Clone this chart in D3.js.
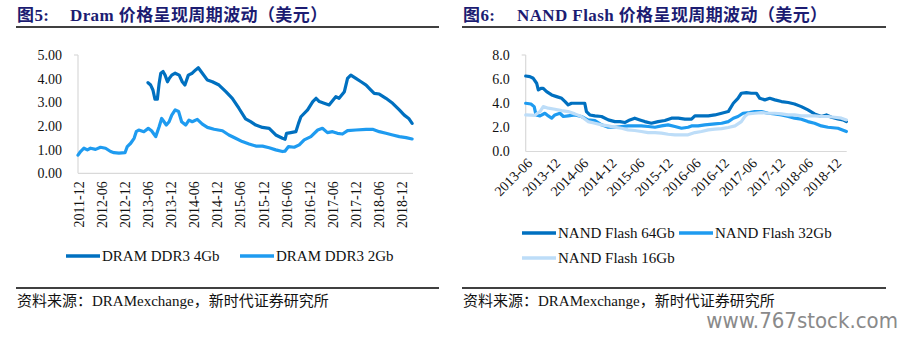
<!DOCTYPE html>
<html>
<head>
<meta charset="utf-8">
<style>
    body {
        margin: 0;
        background: #fff;
    }
    svg {
        display: block;
        font-family: "Liberation Serif", "Noto Sans CJK SC", serif;
    }
    .title {
        font-size: 17px;
        font-weight: bold;
        fill: #1c1c72;
        letter-spacing: 0.4px;
    }
    .tick-label {
        font-size: 14px;
        fill: #111;
    }
    .legend-label {
        font-size: 15px;
        fill: #111;
    }
    .source {
        font-size: 15px;
        fill: #111;
    }
    .rule {
        stroke: #000;
        stroke-width: 1.3;
    }
    .axis-line {
        stroke: #d9d9d9;
        stroke-width: 1.2;
        fill: none;
    }
    .series {
        fill: none;
        stroke-width: 3.2;
        stroke-linejoin: round;
        stroke-linecap: round;
    }
</style>
</head>
<body>
<script src="https://d3js.org/d3.v7.min.js"></script>
<script>

    // DRAM contract prices (USD)
    var ddr3_4gb = [
        ["2013-06-07", 3.83], ["2013-06-28", 3.73], ["2013-07-16", 3.52], ["2013-08-01", 3.13],
        ["2013-08-20", 3.13], ["2013-09-03", 3.80], ["2013-09-16", 4.23], ["2013-10-04", 4.30],
        ["2013-10-20", 4.15], ["2013-11-08", 3.87], ["2013-11-21", 4.00], ["2013-12-12", 4.15],
        ["2014-01-08", 4.23], ["2014-02-09", 4.15], ["2014-03-05", 3.87], ["2014-03-26", 3.73],
        ["2014-04-22", 4.15], ["2014-05-23", 4.23], ["2014-06-19", 4.37], ["2014-07-10", 4.46],
        ["2014-08-11", 4.23], ["2014-09-20", 3.94], ["2014-10-29", 3.87], ["2014-12-21", 3.73],
        ["2015-02-13", 3.45], ["2015-04-05", 3.17], ["2015-05-27", 2.75], ["2015-07-19", 2.30],
        ["2015-08-28", 2.18], ["2015-10-08", 2.04], ["2015-11-30", 1.94], ["2016-01-22", 1.90],
        ["2016-03-14", 1.62], ["2016-05-06", 1.48], ["2016-05-27", 1.44], ["2016-06-07", 1.69],
        ["2016-07-11", 1.72], ["2016-08-20", 1.76], ["2016-09-10", 2.11], ["2016-09-29", 2.39],
        ["2016-11-21", 2.68], ["2017-01-01", 3.03], ["2017-01-27", 3.17], ["2017-02-22", 3.03],
        ["2017-04-01", 2.96], ["2017-05-10", 2.89], ["2017-07-02", 3.24], ["2017-07-28", 3.17],
        ["2017-09-08", 3.45], ["2017-10-03", 4.01], ["2017-10-29", 4.15], ["2017-12-08", 4.01],
        ["2018-01-18", 3.87], ["2018-02-27", 3.73], ["2018-04-06", 3.52], ["2018-05-02", 3.38],
        ["2018-06-11", 3.35], ["2018-08-03", 3.17], ["2018-09-25", 2.96], ["2018-11-17", 2.68],
        ["2018-12-26", 2.46], ["2019-01-30", 2.32], ["2019-02-26", 2.11]
    ];

    var ddr3_2gb = [
        ["2011-12-01", 0.77], ["2011-12-21", 0.92], ["2012-01-17", 1.06], ["2012-02-13", 0.99],
        ["2012-03-09", 1.06], ["2012-04-18", 1.01], ["2012-05-27", 1.10], ["2012-07-06", 1.06],
        ["2012-08-15", 0.92], ["2012-09-11", 0.87], ["2012-10-20", 0.85], ["2012-12-07", 0.87],
        ["2012-12-25", 1.13], ["2013-01-21", 1.27], ["2013-02-17", 1.48], ["2013-03-06", 1.76],
        ["2013-03-26", 1.83], ["2013-05-05", 1.76], ["2013-06-09", 1.90], ["2013-07-05", 1.80],
        ["2013-08-07", 1.55], ["2013-09-03", 1.97], ["2013-09-23", 2.32], ["2013-10-12", 2.18],
        ["2013-10-30", 2.04], ["2013-11-21", 2.18], ["2013-12-12", 2.46], ["2014-01-08", 2.68],
        ["2014-02-04", 2.61], ["2014-02-28", 2.18], ["2014-04-01", 2.04], ["2014-04-27", 2.25],
        ["2014-05-23", 2.18], ["2014-07-02", 2.28], ["2014-08-11", 2.08], ["2014-09-20", 1.94],
        ["2014-11-12", 1.86], ["2015-01-17", 1.80], ["2015-03-09", 1.62], ["2015-05-01", 1.48],
        ["2015-06-23", 1.34], ["2015-08-16", 1.24], ["2015-10-08", 1.15], ["2015-11-30", 1.15],
        ["2016-01-22", 1.08], ["2016-03-14", 0.99], ["2016-05-06", 0.92], ["2016-05-27", 0.94],
        ["2016-06-23", 1.13], ["2016-08-07", 1.10], ["2016-09-16", 1.20], ["2016-10-25", 1.41],
        ["2016-12-17", 1.55], ["2017-02-09", 1.83], ["2017-03-18", 1.90], ["2017-04-27", 1.72],
        ["2017-06-06", 1.76], ["2017-07-15", 1.69], ["2017-08-24", 1.66], ["2017-10-03", 1.80],
        ["2017-12-08", 1.83], ["2018-02-27", 1.86], ["2018-04-19", 1.86], ["2018-06-11", 1.76],
        ["2018-08-03", 1.69], ["2018-09-25", 1.62], ["2018-11-17", 1.55], ["2019-01-09", 1.51],
        ["2019-02-26", 1.45]
    ];

    // NAND Flash contract prices (USD)
    var nand_64gb = [
        ["2013-06-01", 6.26], ["2013-06-28", 6.21], ["2013-07-20", 6.07], ["2013-08-11", 5.66],
        ["2013-08-22", 5.10], ["2013-09-08", 5.24], ["2013-09-23", 5.24], ["2013-10-15", 4.97],
        ["2013-11-17", 4.69], ["2013-12-19", 4.55], ["2014-01-21", 4.41], ["2014-02-12", 4.14],
        ["2014-03-04", 3.86], ["2014-03-26", 4.00], ["2014-05-08", 4.00], ["2014-06-20", 4.00],
        ["2014-07-01", 3.31], ["2014-07-23", 3.03], ["2014-08-25", 2.95], ["2014-10-07", 2.90],
        ["2014-11-20", 2.62], ["2015-01-02", 2.48], ["2015-02-04", 2.48], ["2015-03-07", 2.40],
        ["2015-04-09", 2.62], ["2015-05-11", 2.76], ["2015-06-13", 2.62], ["2015-07-15", 2.48],
        ["2015-08-27", 2.34], ["2015-10-10", 2.48], ["2015-11-23", 2.57], ["2016-01-05", 2.76],
        ["2016-02-18", 2.76], ["2016-04-01", 2.68], ["2016-05-14", 2.68], ["2016-06-05", 2.95],
        ["2016-07-18", 2.95], ["2016-08-31", 2.95], ["2016-10-13", 3.03], ["2016-11-26", 3.17],
        ["2017-01-08", 3.31], ["2017-02-10", 4.00], ["2017-03-12", 4.41], ["2017-04-03", 4.83],
        ["2017-05-06", 4.88], ["2017-06-07", 4.83], ["2017-07-10", 4.83], ["2017-08-01", 4.41],
        ["2017-09-03", 4.28], ["2017-10-05", 4.41], ["2017-11-07", 4.28], ["2017-12-20", 4.14],
        ["2018-02-02", 4.06], ["2018-03-15", 3.94], ["2018-04-28", 3.72], ["2018-06-10", 3.45],
        ["2018-07-23", 3.12], ["2018-09-05", 2.90], ["2018-10-08", 3.03], ["2018-11-10", 2.84],
        ["2018-12-22", 2.70], ["2019-01-24", 2.62], ["2019-02-15", 2.48]
    ];

    var nand_32gb = [
        ["2013-06-01", 4.00], ["2013-07-05", 3.94], ["2013-07-26", 3.72], ["2013-08-07", 3.03],
        ["2013-09-02", 2.95], ["2013-10-04", 3.17], ["2013-10-26", 2.95], ["2013-11-17", 2.76],
        ["2013-12-08", 3.03], ["2014-01-10", 3.17], ["2014-02-01", 2.90], ["2014-03-04", 2.95],
        ["2014-04-16", 3.03], ["2014-05-29", 2.90], ["2014-07-11", 2.62], ["2014-08-25", 2.57],
        ["2014-10-07", 2.21], ["2014-11-20", 2.01], ["2015-01-02", 2.01], ["2015-02-15", 2.07],
        ["2015-03-28", 2.12], ["2015-05-11", 2.12], ["2015-06-23", 2.12], ["2015-08-06", 2.07],
        ["2015-09-19", 2.01], ["2015-11-01", 2.12], ["2015-12-14", 2.21], ["2016-01-27", 2.07],
        ["2016-03-10", 1.93], ["2016-04-22", 2.01], ["2016-05-14", 2.12], ["2016-06-26", 2.12],
        ["2016-08-09", 2.21], ["2016-10-13", 2.29], ["2016-11-26", 2.34], ["2017-01-08", 2.48],
        ["2017-02-10", 2.76], ["2017-03-12", 2.90], ["2017-04-14", 3.17], ["2017-05-27", 3.23],
        ["2017-06-29", 3.31], ["2017-08-11", 3.31], ["2017-09-24", 3.17], ["2017-11-07", 3.12],
        ["2017-12-20", 3.03], ["2018-02-02", 2.90], ["2018-03-15", 2.76], ["2018-04-28", 2.68],
        ["2018-06-10", 2.48], ["2018-07-23", 2.34], ["2018-09-05", 2.12], ["2018-10-18", 2.01],
        ["2018-12-22", 1.93], ["2019-02-15", 1.66]
    ];

    var nand_16gb = [
        ["2013-06-01", 3.03], ["2013-07-30", 3.00], ["2013-09-02", 3.31], ["2013-09-23", 3.72],
        ["2013-10-26", 3.59], ["2013-12-08", 3.50], ["2014-01-21", 3.39], ["2014-03-04", 3.31],
        ["2014-04-16", 3.12], ["2014-05-29", 2.90], ["2014-07-11", 2.48], ["2014-08-25", 2.34],
        ["2014-10-07", 2.21], ["2014-11-20", 2.12], ["2015-01-02", 2.01], ["2015-02-15", 1.93],
        ["2015-03-28", 1.79], ["2015-05-11", 1.74], ["2015-06-23", 1.66], ["2015-08-06", 1.57],
        ["2015-09-19", 1.57], ["2015-11-01", 1.52], ["2015-12-14", 1.43], ["2016-01-27", 1.38],
        ["2016-03-10", 1.38], ["2016-04-22", 1.38], ["2016-06-05", 1.57], ["2016-07-18", 1.66],
        ["2016-08-31", 1.79], ["2016-10-13", 1.85], ["2016-11-26", 1.90], ["2017-01-08", 1.99],
        ["2017-02-21", 2.12], ["2017-04-03", 2.48], ["2017-04-25", 2.90], ["2017-05-16", 3.12],
        ["2017-06-29", 3.17], ["2017-08-11", 3.23], ["2017-09-24", 3.17], ["2017-11-07", 3.17],
        ["2017-12-20", 3.12], ["2018-02-02", 3.03], ["2018-03-15", 3.03], ["2018-04-28", 2.95],
        ["2018-06-10", 2.95], ["2018-07-23", 2.95], ["2018-09-05", 2.90], ["2018-10-18", 2.90],
        ["2018-12-01", 2.84], ["2019-01-14", 2.76], ["2019-02-15", 2.62]
    ];

    var dramYTicks = [0, 1, 2, 3, 4, 5];
    var nandYTicks = [0, 2, 4, 6, 8];

    var dramXTicks = ["2011-12", "2012-06", "2012-12", "2013-06", "2013-12", "2014-06", "2014-12",
        "2015-06", "2015-12", "2016-06", "2016-12", "2017-06", "2017-12", "2018-06", "2018-12"];
    var nandXTicks = ["2013-06", "2013-12", "2014-06", "2014-12", "2015-06", "2015-12",
        "2016-06", "2016-12", "2017-06", "2017-12", "2018-06", "2018-12"];

    var sourceText = "资料来源：DRAMexchange，新时代证券研究所";

    var parse = d3.timeParse("%Y-%m-%d");
    var parseMonth = d3.timeParse("%Y-%m");

    var svg = d3.select("body").append("svg")
        .attr("width", 910)
        .attr("height", 339);

    function drawPanel(cfg) {
        var g = svg.append("g");

        // heading + rules
        g.append("text").attr("class", "title")
            .attr("x", cfg.left).attr("y", 21).text(cfg.num);
        g.append("text").attr("class", "title")
            .attr("x", cfg.titleX).attr("y", 21).text(cfg.title);
        g.append("line").attr("class", "rule")
            .attr("x1", cfg.left - 1).attr("x2", cfg.right)
            .attr("y1", 27).attr("y2", 27);
        g.append("line").attr("class", "rule")
            .attr("x1", cfg.left - 1).attr("x2", cfg.right)
            .attr("y1", 288).attr("y2", 288);
        g.append("text").attr("class", "source")
            .attr("x", cfg.left).attr("y", 306).text(sourceText);

        var x = d3.scaleTime().domain(cfg.xDomain).range(cfg.xRange);
        var y = d3.scaleLinear().domain(cfg.yDomain).range(cfg.yRange);

        // axis lines
        g.append("line").attr("class", "axis-line")
            .attr("x1", cfg.xRange[0]).attr("x2", cfg.xRange[0])
            .attr("y1", cfg.yRange[1]).attr("y2", cfg.yRange[0]);
        g.append("line").attr("class", "axis-line")
            .attr("x1", cfg.xRange[0] - 4).attr("x2", cfg.xRange[0])
            .attr("y1", cfg.yRange[1]).attr("y2", cfg.yRange[1]);
        g.append("line").attr("class", "axis-line")
            .attr("x1", cfg.xRange[0]).attr("x2", cfg.xRange[1])
            .attr("y1", cfg.yRange[0]).attr("y2", cfg.yRange[0]);

        g.selectAll(".ylab")
            .data(cfg.yTicks)
            .enter().append("text")
            .attr("class", "tick-label")
            .attr("x", cfg.xRange[0] - 16)
            .attr("y", function(d) { return y(d); })
            .attr("dy", "0.35em")
            .attr("text-anchor", "end")
            .text(function(d) { return d.toFixed(cfg.yDecimals); });

        g.selectAll(".xlab")
            .data(cfg.xTicks)
            .enter().append("text")
            .attr("class", "tick-label")
            .attr("text-anchor", "end")
            .attr("dy", "0.35em")
            .attr("transform", function(d) {
                var px = x(parseMonth(d)) + cfg.xLabelDx;
                return "translate(" + px + "," + (cfg.yRange[0] + cfg.xLabelDy) + ") rotate(" + cfg.xLabelRot + ")";
            })
            .text(function(d) { return d; });

        var line = d3.line()
            .x(function(d) { return x(parse(d[0])); })
            .y(function(d) { return y(d[1]); });

        cfg.series.forEach(function(s) {
            g.append("path")
                .datum(s.data)
                .attr("class", "series")
                .attr("stroke", s.color)
                .attr("d", line);
        });

        // legend
        cfg.series.forEach(function(s) {
            g.append("line")
                .attr("x1", s.lx).attr("x2", s.lx + 34)
                .attr("y1", s.ly).attr("y2", s.ly)
                .attr("stroke", s.color)
                .attr("stroke-width", 3.5);
            g.append("text").attr("class", "legend-label")
                .attr("x", s.lx + 36).attr("y", s.ly)
                .attr("dy", "0.35em")
                .text(s.name);
        });
    }

    drawPanel({
        left: 17, right: 439, num: "图5:", titleX: 70,
        title: "Dram 价格呈现周期波动（美元）",
        xDomain: [new Date(2011, 11, 1), new Date(2019, 2, 5)],
        xRange: [78, 413],
        yDomain: [0, 5], yRange: [173.3, 55],
        yTicks: dramYTicks, yDecimals: 2,
        xTicks: dramXTicks,
        xLabelDx: 1, xLabelDy: 8, xLabelRot: -90,
        series: [
            { name: "DRAM DDR3 4Gb", data: ddr3_4gb, color: "#0070c0", lx: 66, ly: 256 },
            { name: "DRAM DDR3 2Gb", data: ddr3_2gb, color: "#1e9bf0", lx: 240, ly: 256 }
        ]
    });

    drawPanel({
        left: 463, right: 886, num: "图6:", titleX: 517,
        title: "NAND Flash 价格呈现周期波动（美元）",
        xDomain: [new Date(2013, 5, 1), new Date(2019, 1, 17)],
        xRange: [525.7, 846.7],
        yDomain: [0, 8], yRange: [151.5, 55],
        yTicks: nandYTicks, yDecimals: 1,
        xTicks: nandXTicks,
        xLabelDx: 4, xLabelDy: 9, xLabelRot: -45,
        series: [
            { name: "NAND Flash 64Gb", data: nand_64gb, color: "#0070c0", lx: 522, ly: 233 },
            { name: "NAND Flash 32Gb", data: nand_32gb, color: "#1e9bf0", lx: 679, ly: 233 },
            { name: "NAND Flash 16Gb", data: nand_16gb, color: "#bdddf8", lx: 522, ly: 258 }
        ]
    });

    svg.append("text")
        .attr("x", 898).attr("y", 328)
        .attr("text-anchor", "end")
        .style("font-family", "'DejaVu Sans Condensed', 'Liberation Sans Narrow', sans-serif")
        .style("font-size", "22px")
        .style("fill", "#8a8a8a")
        .text("www.767stock.com");

</script>
</body>
</html>
